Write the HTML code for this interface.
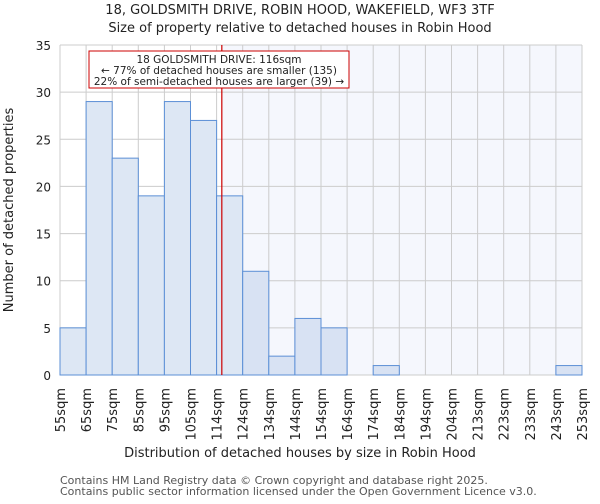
<!DOCTYPE html>
<html><head><meta charset="utf-8"><style>
body{margin:0;background:#fff;font-family:"DejaVu Sans","Liberation Sans",sans-serif}
</style></head><body>
<svg width="600" height="500" xmlns="http://www.w3.org/2000/svg" font-family="DejaVu Sans, Liberation Sans, sans-serif">
<text x="300" y="14" text-anchor="middle" font-size="13" fill="#222">18, GOLDSMITH DRIVE, ROBIN HOOD, WAKEFIELD, WF3 3TF</text>
<text x="300" y="32" text-anchor="middle" font-size="13" fill="#222">Size of property relative to detached houses in Robin Hood</text>
<g id="plot"></g>
<text x="300" y="457" text-anchor="middle" font-size="13" fill="#222">Distribution of detached houses by size in Robin Hood</text>
<text transform="translate(13,210) rotate(-90)" text-anchor="middle" font-size="13" fill="#222">Number of detached properties</text>
<text x="60" y="484" font-size="11" fill="#555">Contains HM Land Registry data © Crown copyright and database right 2025.</text>
<text x="60" y="495" font-size="11" fill="#555">Contains public sector information licensed under the Open Government Licence v3.0.</text>
</svg>
<script>
const binLabels=["55sqm","65sqm","75sqm","85sqm","95sqm","105sqm","114sqm","124sqm","134sqm","144sqm","154sqm","164sqm","174sqm","184sqm","194sqm","204sqm","213sqm","223sqm","233sqm","243sqm","253sqm"];
const counts=[5,29,23,19,29,27,19,11,2,6,5,0,1,0,0,0,0,0,0,1];
const yTicks=[0,5,10,15,20,25,30,35];
const markerValue=116;
const NS="http://www.w3.org/2000/svg";
const g=document.getElementById('plot');
const X0=60,X1=582,Y0=375,Y1=45,yMax=35;
const bw=(X1-X0)/counts.length;
const xs=i=>X0+i*bw;
const ys=v=>Y0-(v/yMax)*(Y0-Y1);
const xv=v=>{for(let i=0;i<binLabels.length-1;i++){const a=parseFloat(binLabels[i]),b=parseFloat(binLabels[i+1]);if(v>=a&&v<=b)return xs(i)+(v-a)/(b-a)*bw;}return X1;};
function mk(t,a){const e=document.createElementNS(NS,t);for(const k in a)e.setAttribute(k,a[k]);g.appendChild(e);return e;}
const mx=xv(markerValue);
let e=mk('rect',{x:X0,y:Y1,width:mx-X0,height:Y0-Y1,fill:'#ffffff'});


e=mk('rect',{x:mx,y:Y1,width:X1-mx,height:Y0-Y1,fill:'#f5f7fd'});


yTicks.forEach(t=>{
 e=mk('line',{x1:X0,x2:X1,y1:ys(t),y2:ys(t),stroke:'#cccccc','stroke-width':1});
 
 
 e=mk('text',{x:X0-9,y:ys(t)+5,'text-anchor':'end','font-size':12,fill:'#222'});
 e.textContent=t;
 
 
});
binLabels.forEach((l,i)=>{
 e=mk('line',{x1:xs(i),x2:xs(i),y1:Y1,y2:Y0,stroke:'#cccccc','stroke-width':1});
 
 
 e=mk('text',{transform:`translate(${xs(i)+5},${Y0+13}) rotate(-90)`,'text-anchor':'end','font-size':13,fill:'#222'});
 e.textContent=l;
 
 
});
counts.forEach((c,i)=>{
 if(c<=0)return;
 e=mk('rect',{x:xs(i),y:ys(c),width:bw,height:Y0-ys(c),fill:xs(i)>=mx-1?'#d8e2f3':'#dde7f4',stroke:'#5b8fd6','stroke-width':1});
 
 
});
e=mk('line',{x1:mx,x2:mx,y1:Y1,y2:Y0,stroke:'#cc0000','stroke-width':1.2});


e=mk('rect',{x:89,y:51,width:260,height:37,fill:'#fff',stroke:'#cc0000','stroke-width':1});


["18 GOLDSMITH DRIVE: 116sqm","← 77% of detached houses are smaller (135)","22% of semi-detached houses are larger (39) →"].forEach((s,k)=>{
 e=mk('text',{x:219,y:63+k*11,'text-anchor':'middle','font-size':10.5,fill:'#222'});
 e.textContent=s;
 
 
});
</script>
</body></html>
